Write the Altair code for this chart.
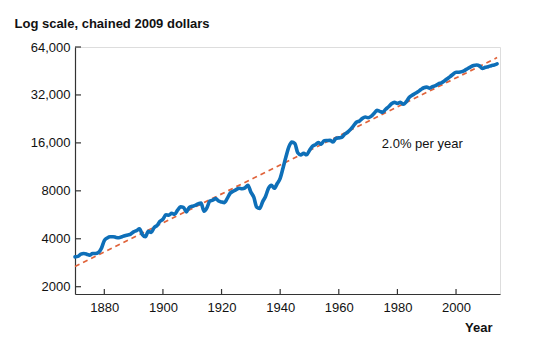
import altair as alt
import pandas as pd

years = list(range(1870, 2015))
gdp_pc = [
    # 1870-1879
    3080, 3100, 3200, 3230, 3200, 3150, 3230, 3230, 3280, 3480,
    # 1880-1889
    3900, 4050, 4120, 4120, 4080, 4060, 4120, 4180, 4230, 4280,
    # 1890-1899
    4420, 4500, 4620, 4250, 4120, 4450, 4380, 4700, 4850, 5150,
    # 1900-1909
    5300, 5650, 5620, 5780, 5700, 6050, 6350, 6300, 5900, 6300,
    # 1910-1919
    6400, 6480, 6620, 6700, 5950, 6250, 6900, 7000, 7150, 6900,
    # 1920-1929
    6800, 6750, 7200, 7750, 7950, 8150, 8300, 8250, 8350, 8675,
    # 1930-1939
    7853, 7297, 6316, 6197, 6821, 7376, 8279, 8654, 8303, 8889,
    # 1940-1949
    9584, 11172, 13134, 15170, 16181, 15853, 13868, 13459, 13779, 13464,
    # 1950-1959
    14340, 15236, 15585, 16051, 15686, 16510, 16562, 16606, 16211, 17047,
    # 1960-1969
    17204, 17355, 18140, 18660, 19458, 20467, 21561, 21918, 22765, 23249,
    # 1970-1979
    23023, 23484, 24461, 25597, 25227, 24932, 26034, 26962, 28154, 28726,
    # 1980-1989
    28328, 28773, 27956, 28988, 30830, 31840, 32657, 33495, 34590, 35529,
    # 1990-1999
    35820, 35300, 36071, 36577, 37606, 38165, 39159, 40436, 41745, 43201,
    # 2000-2009
    44474, 44468, 44822, 45652, 46960, 48089, 48908, 49300, 48704, 46936,
    # 2010-2014
    47720, 48143, 48869, 49343, 50117,
]

trend_years = [1870, 2014]
trend_values = [2680, 54900]

x_ticks = [1880, 1900, 1920, 1940, 1960, 1980, 2000]
y_ticks = [2000, 4000, 8000, 16000, 32000, 64000]

annot_text = ["2.0% per year"]
annot_year = [1988.5]
annot_value = [15700]

W, H = 425, 247
FONT = "Liberation Sans"
AXIS_COLOR = "#333333"

df = pd.DataFrame({"year": years, "gdp": gdp_pc})
trend_df = pd.DataFrame({"year": trend_years, "gdp": trend_values})
xt_df = pd.DataFrame({"year": x_ticks})
yt_df = pd.DataFrame({"gdp": y_ticks})
an_df = pd.DataFrame({"t": annot_text, "year": annot_year, "gdp": annot_value})

xscale = alt.Scale(domain=[1870, 2015], nice=False, zero=False)
yscale = alt.Scale(type="log", domain=[1800, 64000], nice=False)

x_axis = alt.Axis(
    values=x_ticks, format="d", ticks=False, grid=False,
    labelFont=FONT, labelFontSize=13, labelColor="#111111", labelPadding=7,
    domainColor=AXIS_COLOR, domainWidth=1.2,
    title="Year", titleFont=FONT, titleFontSize=13, titleFontWeight="bold",
    titleColor="#111111", titleAlign="right", titleBaseline="alphabetic",
    titleX=417, titleY=37,
)
y_axis = alt.Axis(
    values=y_ticks, ticks=False, grid=False,
    labelExpr="datum.value >= 10000 ? format(datum.value, ',') : format(datum.value, 'd')",
    labelFont=FONT, labelFontSize=13, labelColor="#111111", labelPadding=5,
    domainColor=AXIS_COLOR, domainWidth=1.2,
    title="Log scale, chained 2009 dollars", titleFont=FONT, titleFontSize=13,
    titleFontWeight="bold", titleColor="#111111", titleAngle=0,
    titleAlign="left", titleBaseline="alphabetic", titleX=-61, titleY=-20,
)

trend = alt.Chart(trend_df).mark_line(
    color="#e0633a", strokeWidth=1.7, strokeDash=[5, 4]
).encode(
    x=alt.X("year:Q", scale=xscale, axis=x_axis),
    y=alt.Y("gdp:Q", scale=yscale, axis=y_axis),
)

line = alt.Chart(df).mark_line(
    color="#0e6fb8", strokeWidth=3.6, interpolate="monotone",
    strokeCap="round", strokeJoin="round"
).encode(
    x=alt.X("year:Q", scale=xscale),
    y=alt.Y("gdp:Q", scale=yscale),
)

xticks = alt.Chart(xt_df).mark_rule(color=AXIS_COLOR, strokeWidth=1.2).encode(
    x=alt.X("year:Q", scale=xscale),
    y=alt.value(H),
    y2=alt.value(H - 5),
)

yticks = alt.Chart(yt_df).mark_rule(color=AXIS_COLOR, strokeWidth=1.2).encode(
    y=alt.Y("gdp:Q", scale=yscale),
    x=alt.value(0),
    x2=alt.value(6),
)

annot = alt.Chart(an_df).mark_text(
    font=FONT, fontSize=13, color="#111111", align="center", baseline="middle"
).encode(
    x=alt.X("year:Q", scale=xscale),
    y=alt.Y("gdp:Q", scale=yscale),
    text="t:N",
)

chart = alt.layer(trend, line, xticks, yticks, annot).properties(
    width=W, height=H,
    autosize=alt.AutoSizeParams(type="none"),
    padding={"left": 75, "top": 47, "right": 38, "bottom": 43},
).configure_view(stroke=None).configure(background="white")

chart.save("out.html", embed_options={"renderer": "svg", "actions": False})
